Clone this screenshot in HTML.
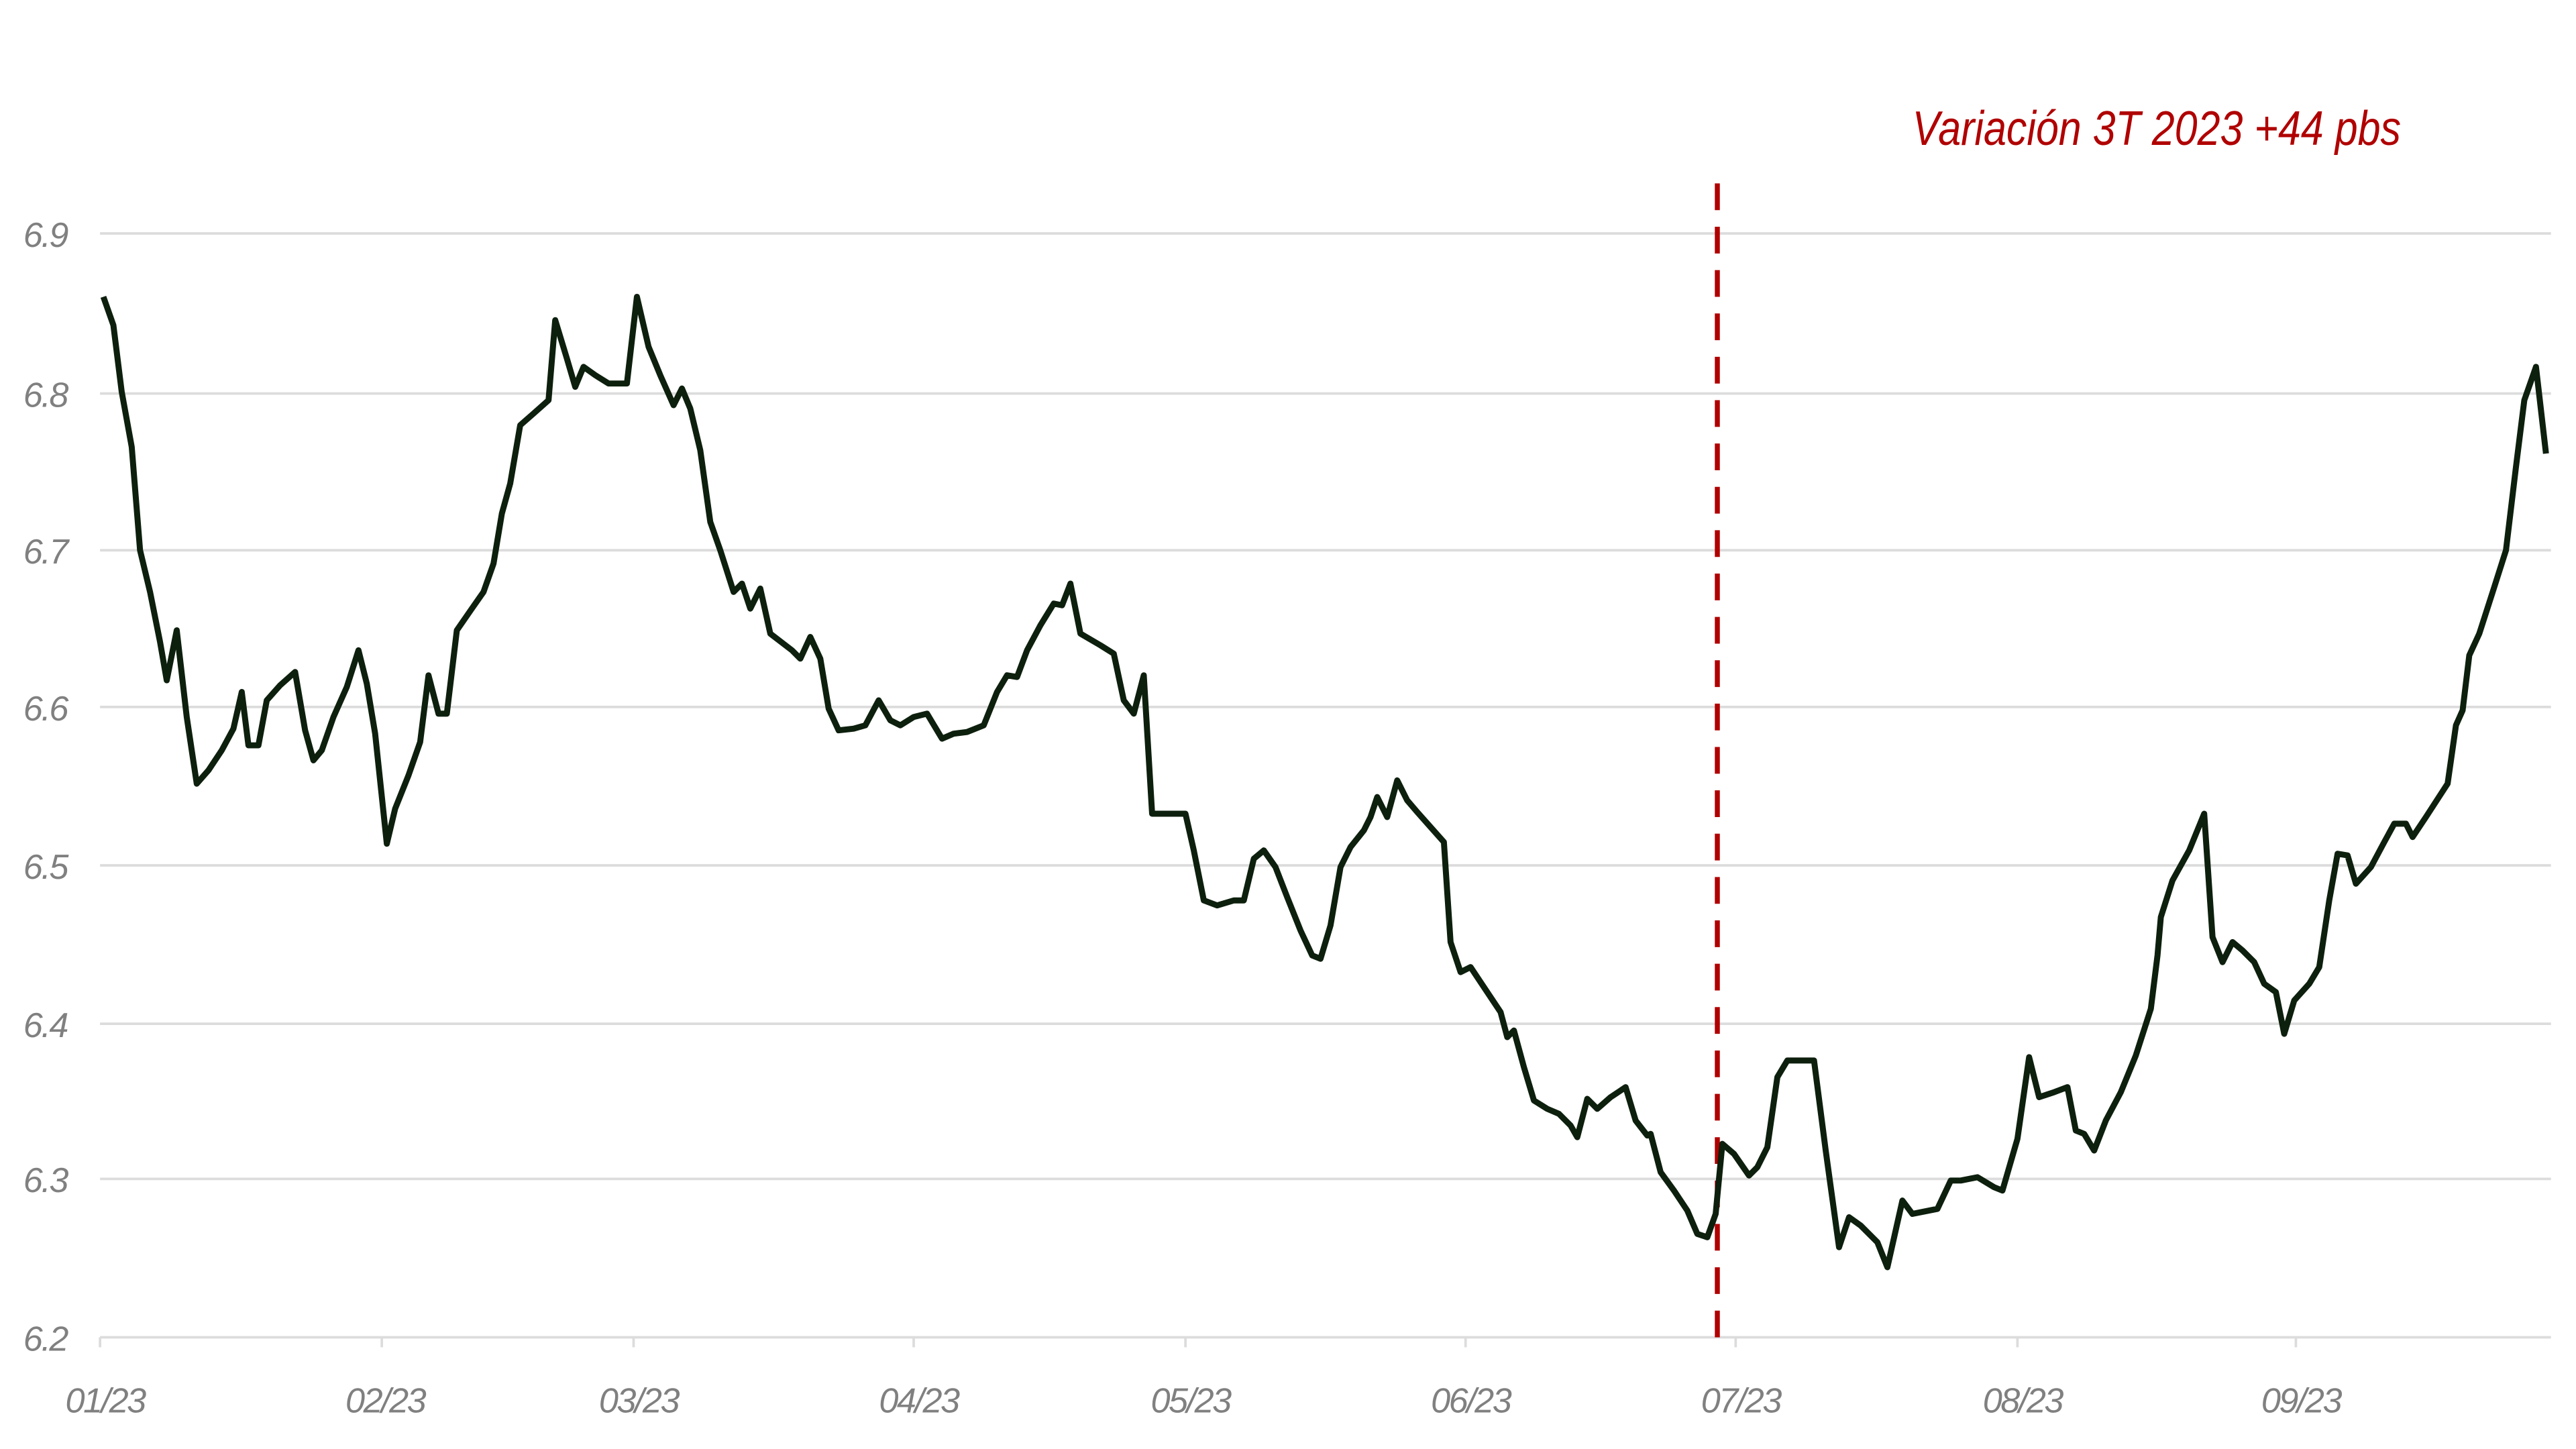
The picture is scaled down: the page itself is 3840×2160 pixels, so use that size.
<!DOCTYPE html>
<html><head><meta charset="utf-8"><style>html,body{margin:0;padding:0;background:#fff}svg{display:block}</style></head>
<body>
<svg width="3840" height="2160" viewBox="0 0 1545 869" preserveAspectRatio="none" xmlns="http://www.w3.org/2000/svg">
<rect width="1545" height="869" fill="#fff"/>
<g stroke="#dcdcdc" stroke-width="1.5">
<line x1="60" y1="140" x2="1530" y2="140"/>
<line x1="60" y1="236" x2="1530" y2="236"/>
<line x1="60" y1="330" x2="1530" y2="330"/>
<line x1="60" y1="424" x2="1530" y2="424"/>
<line x1="60" y1="519" x2="1530" y2="519"/>
<line x1="60" y1="614" x2="1530" y2="614"/>
<line x1="60" y1="707" x2="1530" y2="707"/>
<line x1="60" y1="802" x2="1530" y2="802"/>
<line x1="60" y1="802" x2="60" y2="808"/><line x1="229" y1="802" x2="229" y2="808"/><line x1="380" y1="802" x2="380" y2="808"/><line x1="548" y1="802" x2="548" y2="808"/><line x1="711" y1="802" x2="711" y2="808"/><line x1="879" y1="802" x2="879" y2="808"/><line x1="1041" y1="802" x2="1041" y2="808"/><line x1="1210" y1="802" x2="1210" y2="808"/><line x1="1377" y1="802" x2="1377" y2="808"/>
</g>
<g font-family="Liberation Sans, sans-serif" font-style="italic" font-size="21" fill="#808080" letter-spacing="-1">
<text x="14" y="148">6.9</text><text x="14" y="244">6.8</text><text x="14" y="338">6.7</text><text x="14" y="432">6.6</text><text x="14" y="527">6.5</text><text x="14" y="622">6.4</text><text x="14" y="715">6.3</text><text x="14" y="810">6.2</text>
</g>
<g font-family="Liberation Sans, sans-serif" font-style="italic" font-size="21" fill="#808080" text-anchor="middle" letter-spacing="-1">
<text x="63" y="847">01/23</text><text x="231" y="847">02/23</text><text x="383" y="847">03/23</text><text x="551" y="847">04/23</text><text x="714" y="847">05/23</text><text x="882" y="847">06/23</text><text x="1044" y="847">07/23</text><text x="1213" y="847">08/23</text><text x="1380" y="847">09/23</text>
</g>
<line x1="1030" y1="110" x2="1030" y2="802" stroke="#b00000" stroke-width="3" stroke-dasharray="16,10"/>
<text x="1147" y="87" font-family="Liberation Sans, sans-serif" font-style="italic" font-size="29" fill="#b00000" textLength="293" lengthAdjust="spacingAndGlyphs">Variación 3T 2023 +44 pbs</text>
<polyline fill="none" stroke="#0d1f0d" stroke-width="3.6" stroke-linejoin="round" points="62,178 68,195 73,235 79,268 84,330 90,355 96,385 100,408 106,378 112,430 118,470 125,462 133,450 140,437 145,415 149,447 155,447 160,420 168,411 177,403 183,438 188,456 193,450 200,430 208,412 215,390 220,410 225,440 232,506 237,485 245,465 252,445 257,405 263,428 268,428 274,378 283,365 290,355 296,338 301,308 306,290 312,255 320,248 329,240 333,192 340,215 345,232 350,220 357,225 365,230 376,230 382,178 389,208 396,225 404,243 409,233 414,245 420,270 426,313 432,330 440,355 445,350 450,365 456,353 462,380 475,390 480,395 486,382 492,395 497,425 503,438 512,437 519,435 527,420 534,432 540,435 548,430 556,428 565,443 572,440 580,439 590,435 598,415 604,405 610,406 616,390 624,375 632,362 637,363 642,350 648,380 660,387 668,392 674,420 680,428 686,405 691,488 711,488 716,510 722,540 730,543 740,540 746,540 752,515 758,510 765,520 772,538 780,558 787,573 792,575 798,555 804,520 810,508 818,498 822,490 826,478 832,490 838,468 844,480 850,487 858,496 866,505 870,565 876,583 882,580 890,592 900,607 904,622 908,618 914,640 920,660 928,665 935,668 942,675 946,682 952,659 958,665 966,658 975,652 981,672 988,681 990,680 996,703 1004,714 1012,726 1018,740 1024,742 1029,728 1033,686 1040,692 1049,705 1054,700 1060,688 1066,646 1072,636 1088,636 1095,690 1103,748 1109,730 1116,735 1126,745 1132,760 1141,720 1147,728 1162,725 1170,708 1176,708 1186,706 1196,712 1201,714 1210,683 1217,634 1223,658 1232,655 1240,652 1245,678 1250,680 1256,690 1263,672 1272,655 1281,633 1290,605 1294,573 1296,550 1303,528 1313,510 1322,488 1327,562 1333,577 1339,565 1345,570 1352,577 1358,590 1365,595 1370,620 1376,600 1385,590 1391,580 1397,540 1402,512 1408,513 1413,530 1422,520 1430,505 1436,494 1443,494 1447,502 1455,490 1468,470 1473,435 1477,426 1481,393 1487,380 1496,352 1503,330 1509,280 1514,240 1521,220 1527,272"/>
</svg>
</body></html>
